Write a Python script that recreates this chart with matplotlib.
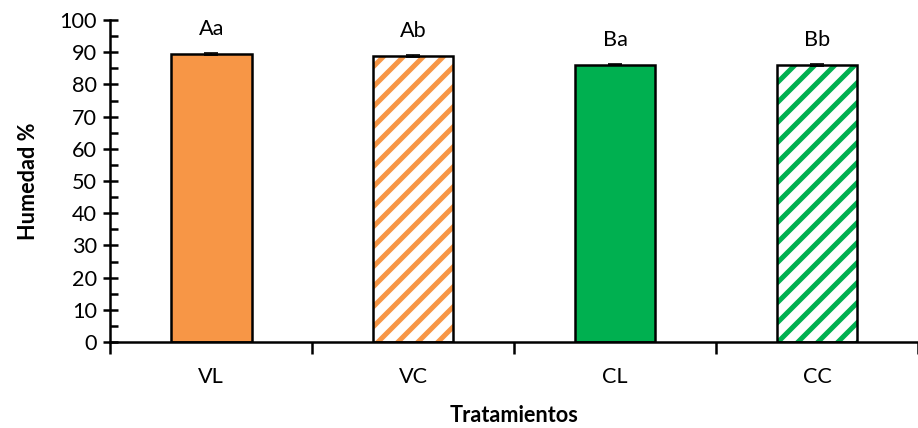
import matplotlib.pyplot as plt
import numpy as np

plt.rcParams['font.family'] = ['Lato', 'DejaVu Sans']
plt.rcParams['hatch.linewidth'] = 3.0

# Data
treatments = ["VL", "VC", "CL", "CC"]
humidity = [89.5, 88.8, 86.2, 86.0]
errors = [0.3, 0.3, 0.2, 0.4]
letters = ["Aa", "Ab", "Ba", "Bb"]
colors = ["#F79646", "#F79646", "#00B050", "#00B050"]
hatched = [False, True, False, True]

fig = plt.figure(figsize=(918 / 120, 428 / 120), dpi=120)
ax = fig.add_axes([0.12, 0.201, 0.88, 0.752])

x = np.arange(len(treatments))
width = 0.4
for i in range(len(treatments)):
    if hatched[i]:
        ax.bar(x[i], humidity[i], width, color="white", edgecolor=colors[i],
               hatch="//", linewidth=0, zorder=2)
        ax.bar(x[i], humidity[i], width, fill=False, edgecolor="black",
               linewidth=1.5, zorder=3)
    else:
        ax.bar(x[i], humidity[i], width, color=colors[i], edgecolor="black",
               linewidth=1.5, zorder=2)
    ax.errorbar(x[i], humidity[i], yerr=errors[i], color="black", capsize=4,
                elinewidth=1, capthick=1, zorder=4)
    ax.annotate(letters[i], (x[i], humidity[i]), xytext=(0, 9),
                textcoords="offset points", ha="center", va="bottom", fontsize=13)

ax.set_ylim(0, 100)
ax.set_xlim(-0.5, 3.46)
ax.set_yticks(np.arange(0, 101, 10))
ax.set_yticks(np.arange(5, 100, 10), minor=True)
ax.tick_params(axis="y", which="major", direction="inout", length=9, width=1.5,
               labelsize=13)
ax.tick_params(axis="y", which="minor", direction="in", length=5, width=1.5)

ax.set_xticks(x)
ax.set_xticklabels(treatments, fontsize=13)
ax.tick_params(axis="x", which="major", length=0, pad=15)
ax.set_xticks(np.arange(-0.5, 4, 1), minor=True)
ax.tick_params(axis="x", which="minor", direction="out", length=7, width=1.5)

for s in ["top", "right"]:
    ax.spines[s].set_visible(False)
for s in ["left", "bottom"]:
    ax.spines[s].set_linewidth(1.5)

ax.set_ylabel("Humedad %", fontsize=13, fontweight="bold", labelpad=12)
ax.set_xlabel("Tratamientos", fontsize=13, fontweight="bold", labelpad=11)

fig.savefig("out.png", dpi=120)
